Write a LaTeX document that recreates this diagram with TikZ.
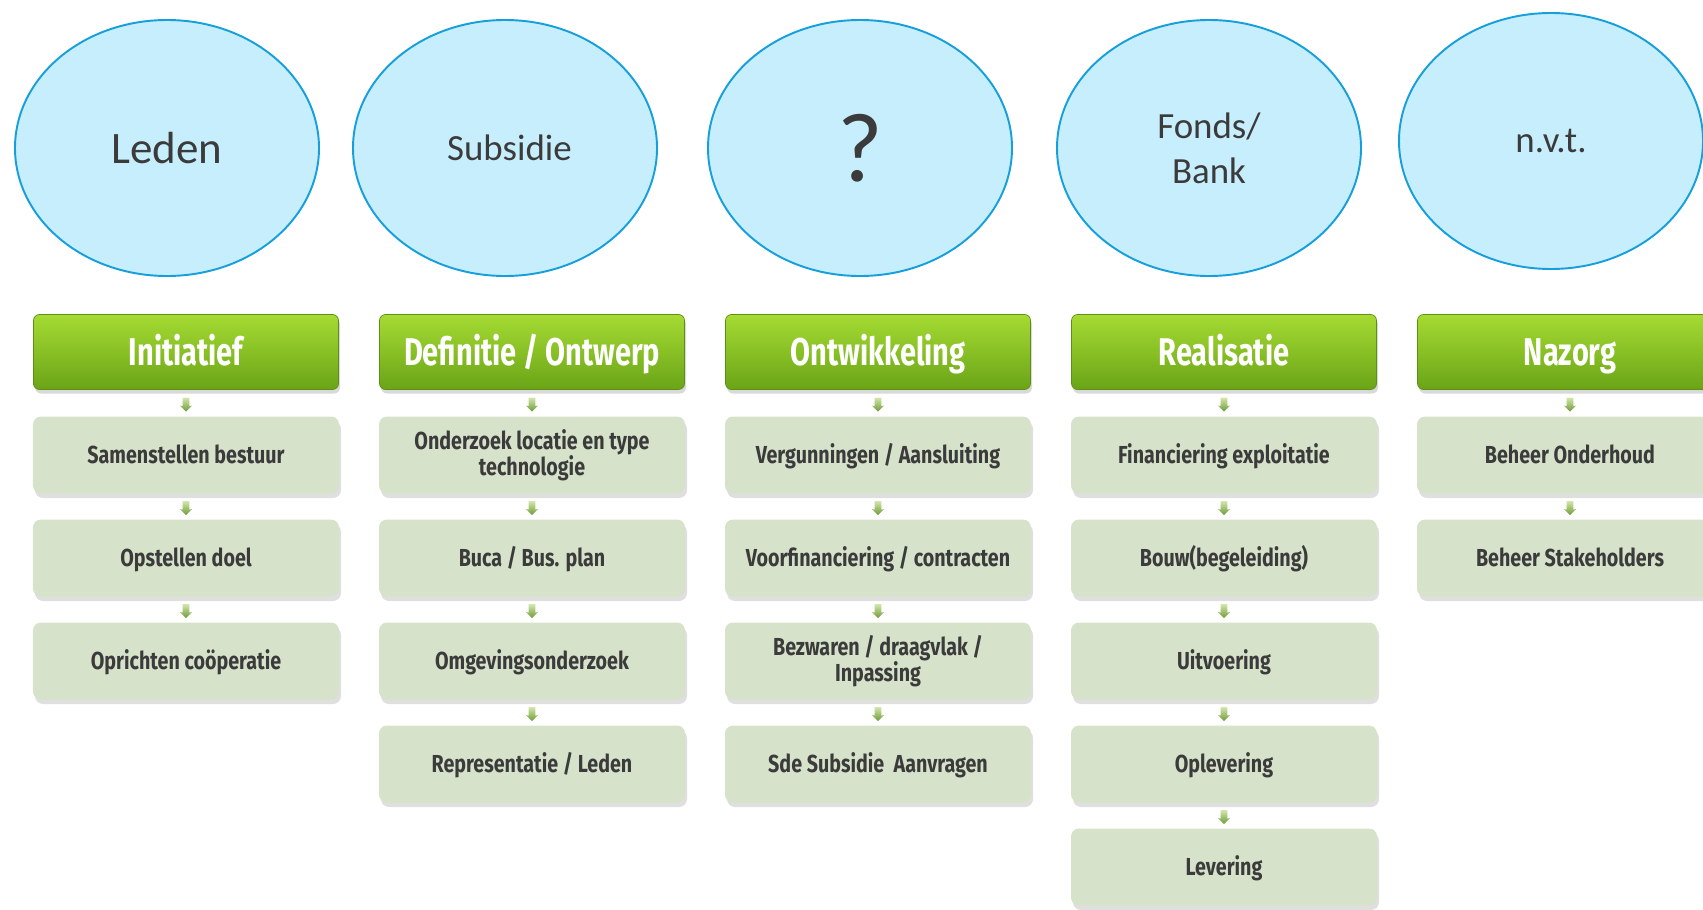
\documentclass[tikz,border=0pt]{standalone}
\usepackage{fontspec}
\setmainfont{Carlito}
\newfontfamily\headfont[FakeStretch=0.75]{Fira Sans}
\newfontfamily\boxfont[FakeStretch=0.8]{Fira Sans}
\usetikzlibrary{calc,shadows,shapes.geometric,shapes.arrows}
\definecolor{skyfill}{HTML}{C7EEFD}
\definecolor{skyline}{HTML}{179FDC}
\definecolor{phasetop}{HTML}{A6DB33}
\definecolor{phasebot}{HTML}{6AA417}
\definecolor{phaseline}{HTML}{5C8F14}
\definecolor{taskfill}{HTML}{D6E2C9}
\definecolor{darktext}{HTML}{3B3B3B}
\definecolor{pijltop}{HTML}{D2E6A8}
\definecolor{pijlbot}{HTML}{6E9A3A}

\begin{document}
\begin{tikzpicture}[x=0.2mm, y=-0.2mm,
	fund/.style={ellipse, draw=skyline, fill=skyfill, line width=1.1pt, minimum width=60.8mm, minimum height=51.2mm, inner sep=0pt, align=center, text=darktext, font=\fontsize{21}{25.6}\selectfont},
	phase/.style={rounded corners=1.2mm, draw=phaseline, top color=phasetop, bottom color=phasebot, minimum width=61mm, minimum height=15mm, text height=15.2pt, text depth=0pt, text=white, font=\headfont\bfseries\fontsize{22}{26}\selectfont, drop shadow={opacity=0.3, shadow xshift=0.3mm, shadow yshift=-0.8mm}},
	task/.style={rounded corners=1.6mm, fill=taskfill, minimum width=61.2mm, minimum height=15.4mm, align=center, text=darktext, font=\boxfont\bfseries\fontsize{14}{14.8}\selectfont, drop shadow={opacity=0.25, shadow xshift=0.4mm, shadow yshift=-0.9mm}},
	one/.style={text height=9.7pt, text depth=0pt},
	pijl/.style={single arrow, shape border rotate=270, minimum height=2.8mm, inner sep=0.6mm, single arrow head extend=0.55mm, single arrow head indent=0.1mm, top color=pijltop, bottom color=pijlbot}]
		%%%%% START %%%%%
		
		\useasboundingbox (0, 0) rectangle (1703, 909);
		
		\node[fund] (leden) at (167, 148) {\fontsize{25.6}{30}\selectfont Leden};
		\node[fund] (subsidie) at (505, 148) {\hspace*{1.8mm}\raisebox{-0.9mm}{Subsidie}};
		\node[fund] (vraag) at (860, 148) {\fontsize{56}{60}\selectfont ?};
		\node[fund] (fonds) at (1209, 148) {Fonds/\\Bank};
		\node[fund] (nvt) at (1551, 141) {n.v.t.};
		
		\node[phase] (init) at (186, 352) {Initiatief};
		\node[phase] (def) at (532, 352) {Definitie / Ontwerp};
		\node[phase] (ontw) at (878, 352) {Ontwikkeling};
		\node[phase] (real) at (1224, 352) {Realisatie};
		\node[phase] (nazorg) at (1570, 352) {Nazorg};
		
		\node[task, one] (init1) at (186, 455) {Samenstellen bestuur};
		\node[task, one] (init2) at (186, 558) {Opstellen doel};
		\node[task, one] (init3) at (186, 661) {Oprichten coöperatie};
		
		\node[task] (def1) at (532, 455) {Onderzoek locatie en type\\technologie};
		\node[task, one] (def2) at (532, 558) {Buca / Bus. plan};
		\node[task, one] (def3) at (532, 661) {Omgevingsonderzoek};
		\node[task, one] (def4) at (532, 764) {Representatie / Leden};
		
		\node[task, one] (ontw1) at (878, 455) {Vergunningen / Aansluiting};
		\node[task, one] (ontw2) at (878, 558) {Voorfinanciering / contracten};
		\node[task] (ontw3) at (878, 661) {Bezwaren / draagvlak /\\Inpassing};
		\node[task, one] (ontw4) at (878, 764) {Sde Subsidie\ \ Aanvragen};
		
		\node[task, one] (real1) at (1224, 455) {Financiering exploitatie};
		\node[task, one] (real2) at (1224, 558) {Bouw(begeleiding)};
		\node[task, one] (real3) at (1224, 661) {Uitvoering};
		\node[task, one] (real4) at (1224, 764) {Oplevering};
		\node[task, one] (real5) at (1224, 867) {Levering};
		
		\node[task, one] (nazorg1) at (1570, 455) {Beheer Onderhoud};
		\node[task, one] (nazorg2) at (1570, 558) {Beheer Stakeholders};
		
		% kleine pijlen tussen de stappen
		\foreach \a/\b in {init/init1, init1/init2, init2/init3,
			def/def1, def1/def2, def2/def3, def3/def4,
			ontw/ontw1, ontw1/ontw2, ontw2/ontw3, ontw3/ontw4,
			real/real1, real1/real2, real2/real3, real3/real4, real4/real5,
			nazorg/nazorg1, nazorg1/nazorg2}
			\node[pijl] (p-\b) at ($(\a.south)!0.5!(\b.north)$) {};
		
		%%%%% END %%%%%
	\end{tikzpicture}
\end{document}
